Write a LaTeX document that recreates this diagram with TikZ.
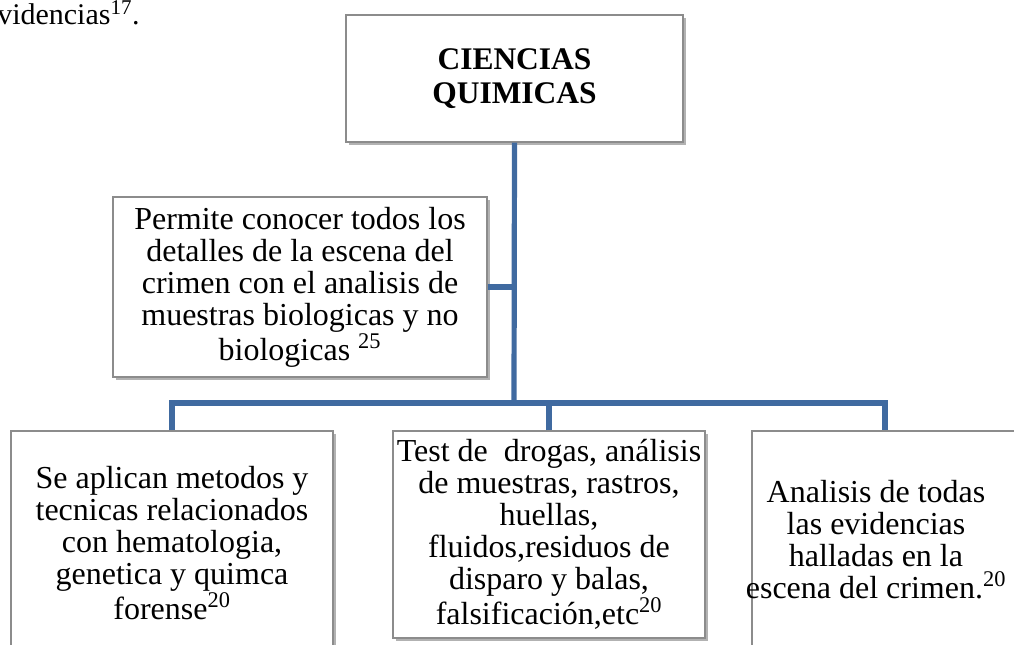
\documentclass[tikz,border=0pt]{standalone}
\usepackage{fontspec}
\setmainfont{Liberation Serif}
\usetikzlibrary{shadows}
\definecolor{connblue}{RGB}{64,106,160}
\definecolor{boxgray}{RGB}{140,140,140}
\tikzset{
  box/.style={draw=boxgray, line width=0.8pt, fill=white, inner sep=0pt, align=center,
    font=\fontsize{24pt}{24pt}\selectfont,
    drop shadow={shadow xshift=2pt, shadow yshift=-2pt, fill=black, opacity=0.3}},
  txt/.style={inner sep=0pt, align=center, font=\fontsize{24pt}{24pt}\selectfont},
  conn/.style={draw=connblue, line width=3.9pt, line join=miter}
}
\begin{document}
\begin{tikzpicture}[x=0.75pt, y=-0.75pt]
\useasboundingbox (0,0) rectangle (1014,645);
% top-left text
\node[txt, anchor=base west, font=\fontsize{22.5pt}{24pt}\selectfont] (ev) at (-3,25) {videncias\textsuperscript{17}.};
% boxes
\node[box, minimum width=337*0.75pt, minimum height=127*0.75pt,
  font=\bfseries\fontsize{23.6pt}{25pt}\selectfont] (top) at (514.5,78.5) {CIENCIAS\\QUIMICAS};
\node[box, minimum width=374*0.75pt, minimum height=180*0.75pt] (perm) at (300,287)
  {Permite conocer todos los\\detalles de la escena del\\crimen con el analisis de\\muestras biologicas y no\\biologicas \textsuperscript{25}};
\node[box, minimum width=322*0.75pt, minimum height=224*0.75pt] (left) at (172,543)
  {Se aplican metodos y\\tecnicas relacionados\\con hematologia,\\genetica y quimca\\forense\textsuperscript{20}};
\node[box, minimum width=312*0.75pt, minimum height=207*0.75pt] (mid) at (549,534.5)
  {Test de\ \ drogas, análisis\\de muestras, rastros,\\huellas,\\fluidos,residuos de\\disparo y balas,\\falsificación,etc\textsuperscript{20}};
\node[box, minimum width=266*0.75pt, minimum height=218*0.75pt] (right) at (885,540) {};
\node[txt] (rtxt) at (876,540)
  {Analisis de todas\\las evidencias\\halladas en la\\escena del crimen.\textsuperscript{20}};
% connectors
\coordinate (bus) at (514,403);
\draw[conn] (top.south) -- (bus);
\draw[conn] (perm.east) -- (perm.east -| bus);
\draw[conn] (left.north) -- (left.north |- bus) -- (right.north |- bus) -- (right.north);
\draw[conn] (mid.north) -- (mid.north |- bus);
\end{tikzpicture}
\end{document}
